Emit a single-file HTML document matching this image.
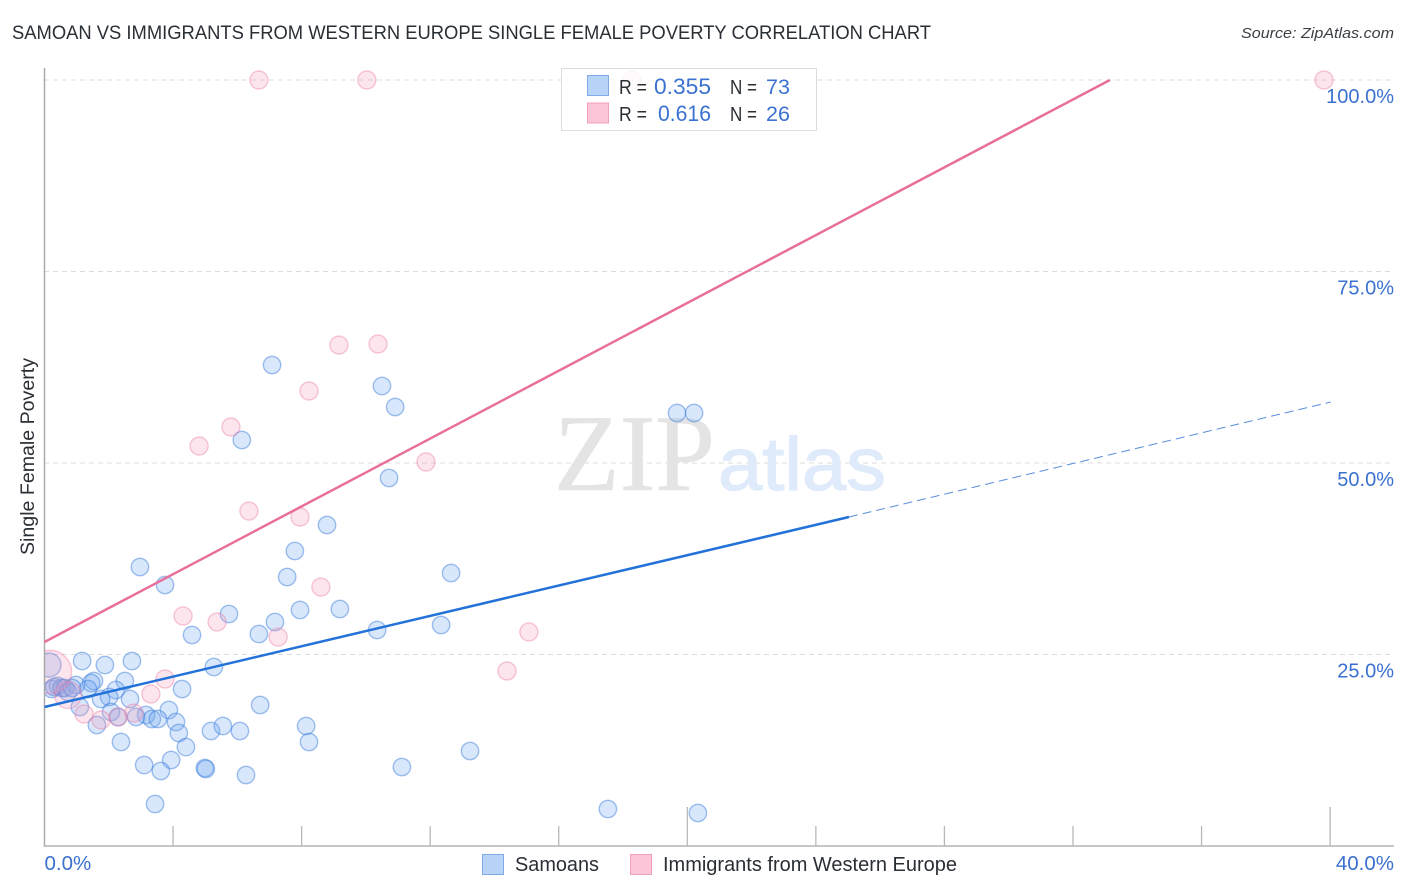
<!DOCTYPE html>
<html lang="en">
<head>
<meta charset="utf-8">
<title>Samoan vs Immigrants from Western Europe Single Female Poverty Correlation Chart</title>
<style>
html,body{margin:0;padding:0;background:#fff;width:1406px;height:892px;overflow:hidden}
svg{display:block;font-family:"Liberation Sans",sans-serif}
</style>
</head>
<body>
<svg id="chart" width="1406" height="892" viewBox="0 0 1406 892" xmlns="http://www.w3.org/2000/svg">
<defs><clipPath id="plot-clip"><rect x="45" y="0" width="1361" height="846"/></clipPath></defs>
<text x="12" y="39" font-size="19" fill="#2a2f36" textLength="919" lengthAdjust="spacingAndGlyphs">SAMOAN VS IMMIGRANTS FROM WESTERN EUROPE SINGLE FEMALE POVERTY CORRELATION CHART</text>
<text x="1241" y="38" font-size="15" font-style="italic" fill="#3a3f46" textLength="153" lengthAdjust="spacingAndGlyphs">Source: ZipAtlas.com</text>
<g id="grid"></g>
<g>
<text x="554" y="490" font-family="'Liberation Serif',serif" font-size="109" fill="#e4e4e4" stroke="#e4e4e4" stroke-width="0.6" textLength="161" lengthAdjust="spacingAndGlyphs">ZIP</text>
<text x="718" y="490" font-size="75" fill="#dfeafa" stroke="#dfeafa" stroke-width="1.2" textLength="168" lengthAdjust="spacingAndGlyphs">atlas</text>
</g>
<g id="axes"></g>
<g id="points" clip-path="url(#plot-clip)"></g>
<g id="trends"></g>
<g id="labels"></g>
<text transform="translate(34,456.5) rotate(-90)" font-size="19" fill="#2a2f36" text-anchor="middle" textLength="197" lengthAdjust="spacingAndGlyphs">Single Female Poverty</text>
<g font-size="20">
<rect x="561.5" y="68.5" width="255" height="62" fill="#fff" fill-opacity="0.82" stroke="#dcdcdc" stroke-width="1"/>
<rect x="587.5" y="75.5" width="21" height="20" fill="#b8d3f8" stroke="#7fabe6"/>
<rect x="587.5" y="103" width="21" height="20" fill="#fcc5d8" stroke="#f0a0bc"/>
<text x="619" y="94" fill="#2a2f36" textLength="28" lengthAdjust="spacingAndGlyphs">R =</text>
<text x="654" y="94" fill="#3b71d0" font-size="22" textLength="57" lengthAdjust="spacingAndGlyphs">0.355</text>
<text x="730" y="94" fill="#2a2f36" textLength="27" lengthAdjust="spacingAndGlyphs">N =</text>
<text x="766" y="94" fill="#3b71d0" font-size="21.5">73</text>
<text x="619" y="121" fill="#2a2f36" textLength="28" lengthAdjust="spacingAndGlyphs">R =</text>
<text x="658" y="121" fill="#3b71d0" font-size="22" textLength="53" lengthAdjust="spacingAndGlyphs">0.616</text>
<text x="730" y="121" fill="#2a2f36" textLength="27" lengthAdjust="spacingAndGlyphs">N =</text>
<text x="766" y="121" fill="#3b71d0" font-size="21.5">26</text>
</g>
<g font-size="20" fill="#2a2f36">
<rect x="482.5" y="854.5" width="21" height="20" fill="#b8d3f8" stroke="#7fabe6"/>
<text x="515" y="871" textLength="84" lengthAdjust="spacingAndGlyphs">Samoans</text>
<rect x="630.5" y="854.5" width="21" height="20" fill="#fcc5d8" stroke="#f0a0bc"/>
<text x="663" y="871" textLength="294" lengthAdjust="spacingAndGlyphs">Immigrants from Western Europe</text>
</g>
</svg>
<script>
const samoanX = [7.08,10.50,10.91,6.14,19.68,20.21,10.72,8.79,7.79,2.97,3.75,7.55,12.65,5.74,7.95,9.19,7.17,6.67,4.59,10.35,12.34,1.17,1.88,2.72,5.27,0.14,2.50,1.54,1.45,1.35,0.98,2.22,4.28,2.66,2.01,1.76,0.23,0.42,0.30,0.54,0.64,0.73,0.86,1.10,6.71,2.07,3.87,4.09,3.16,3.34,3.53,2.85,2.29,1.63,4.18,5.18,5.55,6.08,8.14,8.23,2.38,4.40,3.94,3.10,3.62,4.99,5.02,6.27,3.44,11.12,13.24,17.53,20.33];
const samoanY = [62.79,60.05,57.31,53.00,56.53,56.53,48.04,41.91,38.51,36.42,34.07,35.12,35.64,30.29,30.81,30.94,29.24,27.68,27.55,28.20,28.85,24.15,23.63,24.15,23.37,23.63,21.54,21.54,21.28,20.50,21.02,20.37,20.50,19.19,19.45,19.19,20.50,20.89,20.76,20.63,20.63,20.10,20.63,18.15,18.41,17.49,17.75,16.19,17.10,16.58,16.58,16.84,16.84,15.80,14.75,15.01,15.67,15.01,15.67,13.58,13.58,12.92,11.23,10.57,9.79,10.18,10.05,9.27,5.48,10.31,12.40,4.83,4.31];
const immigrantX = [6.67,10.03,18.28,39.81,9.16,10.38,8.23,5.80,4.81,11.87,6.36,7.95,8.60,4.31,5.37,7.27,15.07,14.39,3.75,3.31,1.23,1.76,2.29,2.78,0.73,0.17];
const immigrantY = [100,100,100,100,65.40,65.54,59.40,54.70,52.22,50.13,43.73,42.95,33.81,30.03,29.24,27.28,27.94,22.85,21.80,19.84,17.23,16.45,16.84,17.36,19.71,22.72];
const immigrantWeight = [1,1,1,1,1,1,1,1,1,1,1,1,1,1,1,1,1,1,1,1,1,1,1,1,1.5,2.4];
const samoanTrendX = [0,25.03];
const samoanTrendY = [18.15,42.95];
const samoanForecastX = [25.03,40.02];
const samoanForecastY = [42.95,57.96];
const immigrantTrendX = [0,33.15];
const immigrantTrendY = [26.63,100];
const yTickValues = [25,50,75,100];
const yTickLabels = ['25.0%','50.0%','75.0%','100.0%'];
const xTickValues = [4,8,12,16,20,24,28,32,36,40];
const xMajorTicks = [20,40];
const xEndValues = [0,40];
const xEndLabels = ['0.0%','40.0%'];

const NS = 'http://www.w3.org/2000/svg';
function sx(v){return 44.5 + v * 32.14;}
function sy(v){return 846 - v * 7.66;}
function make(tag, attrs, parent){
  const el = document.createElementNS(NS, tag);
  for (const k in attrs) el.setAttribute(k, attrs[k]);
  parent.appendChild(el);
  return el;
}
const grid = document.getElementById('grid');
const axes = document.getElementById('axes');
const points = document.getElementById('points');
const trends = document.getElementById('trends');
const labels = document.getElementById('labels');

yTickValues.forEach(function(v){
  const g = make('line',{x1:44,x2:1394,y1:sy(v),y2:sy(v),stroke:'#dcdcdc','stroke-width':1,'stroke-dasharray':'5 4'},grid);
  
  
});
const yAxis = make('line',{x1:44.5,x2:44.5,y1:68,y2:847,stroke:'#aaaaaa','stroke-width':1.5},axes);


const xAxis = make('line',{x1:44,x2:1394,y1:846,y2:846,stroke:'#b4b4b4','stroke-width':1.5},axes);


xTickValues.forEach(function(v){
  const top = xMajorTicks.indexOf(v) >= 0 ? 807 : 826;
  const t = make('line',{x1:sx(v),x2:sx(v),y1:top,y2:846,stroke:'#b8b8b8','stroke-width':1.3},axes);
  
  
});

samoanX.forEach(function(v,i){
  const c = make('circle',{cx:sx(v),cy:sy(samoanY[i]),r:i===25?12:8.7,fill:'rgba(110,165,240,0.27)',stroke:'rgba(60,125,220,0.48)','stroke-width':1.4},points);
  
  
});
immigrantX.forEach(function(v,i){
  const c = make('circle',{cx:sx(v),cy:sy(immigrantY[i]),r:9*immigrantWeight[i],fill:'rgba(245,150,185,0.25)',stroke:'rgba(235,125,165,0.42)','stroke-width':1.4},points);
  
  
});

const forecast = make('line',{x1:sx(samoanForecastX[0]),y1:sy(samoanForecastY[0]),x2:sx(samoanForecastX[1]),y2:sy(samoanForecastY[1]),stroke:'#5a8fdc','stroke-width':1,'stroke-dasharray':'9 5'},trends);


const blueLine = make('line',{x1:sx(samoanTrendX[0]),y1:sy(samoanTrendY[0]),x2:sx(samoanTrendX[1]),y2:sy(samoanTrendY[1]),stroke:'#2272d9','stroke-width':2.5},trends);


const pinkLine = make('line',{x1:sx(immigrantTrendX[0]),y1:sy(immigrantTrendY[0]),x2:sx(immigrantTrendX[1]),y2:sy(immigrantTrendY[1]),stroke:'#e96f9b','stroke-width':2.5},trends);



yTickValues.forEach(function(v,i){
  const t = make('text',{x:1394,y:sy(v)+23,'font-size':20,fill:'#3b71d0','text-anchor':'end'},labels);
  t.textContent = yTickLabels[i];
  
  
});
xEndValues.forEach(function(v,i){
  const t = make('text',{x:i===0?sx(v):1394,y:870,'font-size':20.5,fill:'#3b71d0','text-anchor':i===0?'start':'end'},labels);
  t.textContent = xEndLabels[i];
  
  
});
</script>
</body>
</html>
